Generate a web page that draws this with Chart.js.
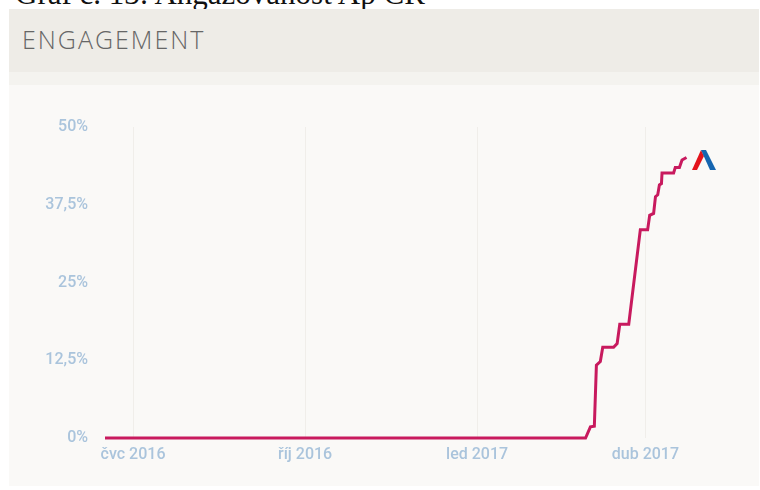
<!DOCTYPE html>
<html>
<head>
<meta charset="utf-8">
<script src="https://cdn.jsdelivr.net/npm/chart.js@4/dist/chart.umd.min.js"></script>
<style>
  html, body { margin: 0; padding: 0; background: #fff; }
  body { width: 760px; height: 490px; position: relative; overflow: hidden; }
  #caption {
    position: absolute; left: 15px; top: -24px; white-space: nowrap;
    font: 31px 'Liberation Serif', 'DejaVu Serif', serif; color: #111;
  }
  #head {
    position: absolute; left: 9px; top: 9px; width: 750px; height: 63px;
    background: #eeece7;
  }
  #head span {
    position: absolute; left: 13px; top: 13px;
    font: 300 25px 'Open Sans', 'Lato', sans-serif; letter-spacing: 2px; color: #666;
  }
  #strip { position: absolute; left: 9px; top: 72px; width: 750px; height: 13px; background: #f4f3ef; }
  #box { position: absolute; left: 9px; top: 85px; width: 750px; height: 401px; background: #faf9f7; }
  #logo { position: absolute; left: 690px; top: 148px; }
</style>
</head>
<body>
<div id="caption">Graf č. 13: Angažovanost Ap ČR</div>
<div id="head"><span>ENGAGEMENT</span></div>
<div id="strip"></div>
<div id="box"><canvas id="chart" width="750" height="400"></canvas></div>
<svg id="logo" width="30" height="24" viewBox="0 0 30 24">
  <polygon points="2,22 11,2 14,8 7,22" fill="#e3131b"/>
  <polygon points="11,2 16,2 26,22 20,22" fill="#1565b0"/>
</svg>
<script>
// days counted from 1 July 2016
const DAYS = [-15, 242, 244.6, 246.7, 247.8, 249.9, 251.2, 257, 258.9, 260.3, 265.1, 271.3,
  275.2, 276.3, 278.4, 279.4, 280.6, 281.5, 282.6, 282.9, 289.1, 290, 292.2, 293.6, 296];
const ENGAGEMENT = [0, 0, 1.8, 1.9, 11.7, 12.3, 14.6, 14.6, 15.2, 18.3, 18.3, 33.5,
  33.5, 35.8, 36.1, 38.8, 39.1, 40.7, 40.9, 42.6, 42.6, 43.5, 43.5, 44.7, 45.1];

const TICK_DAYS = [0, 92, 184, 274];
const TICK_LABELS = ['čvc 2016', 'říj 2016', 'led 2017', 'dub 2017'];
const Y_TICKS = [0, 12.5, 25, 37.5, 50];

const FONT = { family: "Roboto, 'Liberation Sans', sans-serif", size: 16, weight: 500 };
const TICK_COLOR = '#aac4dc';

new Chart(document.getElementById('chart'), {
  type: 'line',
  data: {
    datasets: [{
      data: DAYS.map((d, i) => ({ x: d, y: ENGAGEMENT[i] })),
      borderColor: '#c81a5e',
      borderWidth: 3,
      pointRadius: 0,
      tension: 0,
      clip: false,
    }],
  },
  options: {
    responsive: false,
    animation: false,
    layout: { padding: { left: 0, right: 65, top: 42, bottom: 17 } },
    plugins: { legend: { display: false }, tooltip: { enabled: false } },
    scales: {
      x: {
        type: 'linear',
        min: -15,
        max: 300,
        afterBuildTicks: (s) => { s.ticks = TICK_DAYS.map((v) => ({ value: v })); },
        afterFit: (s) => { s.height = 30; },
        ticks: {
          callback: (v) => TICK_LABELS[TICK_DAYS.indexOf(v)],
          color: TICK_COLOR, font: FONT, padding: 7, maxRotation: 0,
        },
        grid: { color: '#f0eeea', drawTicks: false },
        border: { display: false },
      },
      y: {
        min: 0,
        max: 50,
        afterBuildTicks: (s) => { s.ticks = Y_TICKS.map((v) => ({ value: v })); },
        afterFit: (s) => { s.width = 96; },
        ticks: {
          callback: (v) => String(v).replace('.', ',') + '%',
          color: TICK_COLOR, font: FONT, padding: 17,
        },
        grid: { display: false, drawTicks: false },
        border: { display: false },
      },
    },
  },
});
</script>
</body>
</html>
